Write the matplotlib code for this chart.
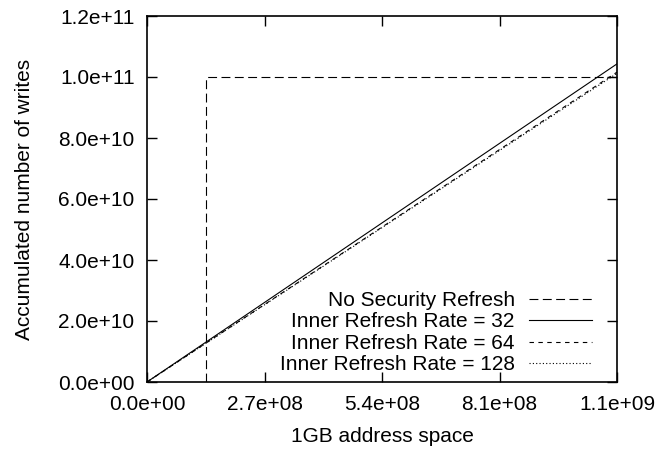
import numpy as np
import matplotlib.pyplot as plt
from matplotlib.ticker import FixedLocator, FuncFormatter

plt.rcParams['font.family'] = ['Liberation Sans', 'DejaVu Sans']
plt.rcParams['font.size'] = 15

# 1GB address space (bytes) and accumulated writes
space = 2 ** 30
no_refresh_x = [2 ** 27, 2 ** 27, space]
no_refresh_y = [0, 1.0e11, 1.0e11]
rate_x = [0, space]
rate32_y = [0, 1.043e11]
rate64_y = [0, 1.016e11]
rate128_y = [0, 1.012e11]

x_ticks = [0, 2 ** 28, 2 ** 29, 3 * 2 ** 28, 2 ** 30]
y_ticks = [0, 2e10, 4e10, 6e10, 8e10, 1.0e11, 1.2e11]

fig = plt.figure(figsize=(6.57, 4.5), dpi=100)
ax = fig.add_axes([147 / 657, 1 - 382 / 450, 470 / 657, 366 / 450])

lw = 0.8
ax.plot(no_refresh_x, no_refresh_y, color='black', lw=lw, dashes=(8, 4),
        label='No Security Refresh')
ax.plot(rate_x, rate32_y, color='black', lw=lw, label='Inner Refresh Rate = 32')
ax.plot(rate_x, rate64_y, color='black', lw=lw, dashes=(4, 4),
        label='Inner Refresh Rate = 64')
ax.plot(rate_x, rate128_y, color='black', lw=lw, dashes=(1, 2),
        label='Inner Refresh Rate = 128')

ax.set_xlim(0, space)
ax.set_ylim(0, 1.2e11)
ax.xaxis.set_major_locator(FixedLocator(x_ticks))
ax.yaxis.set_major_locator(FixedLocator(y_ticks))
sci = FuncFormatter(lambda v, pos: f'{v:.1e}')
ax.xaxis.set_major_formatter(sci)
ax.yaxis.set_major_formatter(sci)
ax.tick_params(direction='in', length=7, width=1, top=True, right=True,
               pad=9, labelsize=15)
for s in ax.spines.values():
    s.set_linewidth(1.2)

ax.set_xlabel('1GB address space', labelpad=10)
ax.set_ylabel('Accumulated number of writes', labelpad=17)

ax.legend(loc='lower right', bbox_to_anchor=(0.982, -0.025),
          frameon=False, markerfirst=False,
          handlelength=3.0, handletextpad=0.7, labelspacing=0.12,
          borderaxespad=0.4, fontsize=15)

fig.savefig('out.png', dpi=100)
